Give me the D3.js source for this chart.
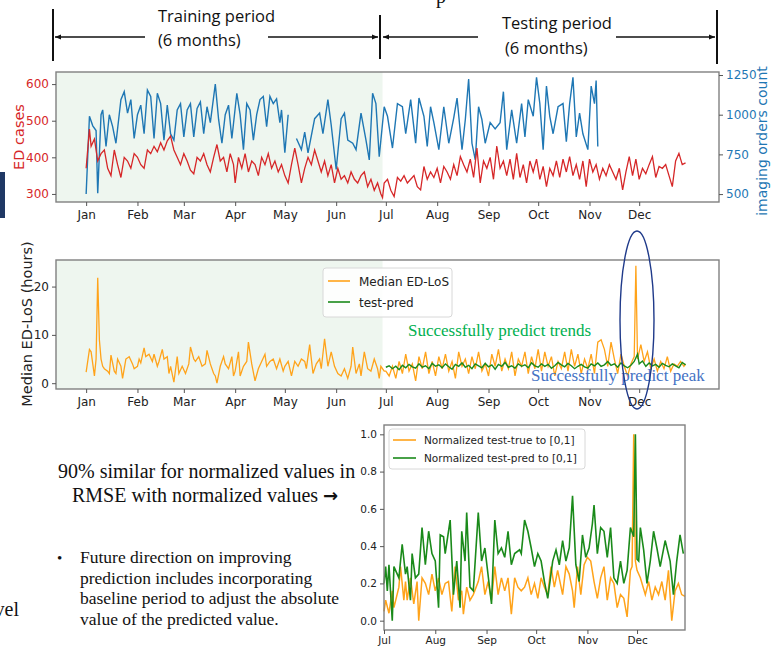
<!DOCTYPE html>
<html>
<head>
<meta charset="utf-8">
<script src="https://cdn.jsdelivr.net/npm/d3@7"></script>
<style>
body { margin: 0; background: #fff; }
svg { display: block; }
</style>
</head>
<body>
<svg id="slide" width="776" height="648"></svg>
<script>
// ---- data (day offsets from Jan 1 2019) ----
var edCases = [[0,370],[2,477],[3,430],[5,450],[7,390],[9,410],[11,420],[13,370],[15,350],[17,420],[19,380],[21,345],[23,400],[25,390],[27,370],[29,410],[31,400],[33,380],[35,370],[37,420],[39,410],[41,430],[43,415],[45,440],[47,420],[49,445],[51,458],[53,420],[55,400],[57,380],[59,410],[61,390],[63,365],[65,355],[67,400],[69,390],[71,410],[73,380],[75,360],[77,400],[79,435],[81,390],[83,400],[85,360],[87,410],[89,380],[90,330],[92,400],[94,370],[96,410],[98,360],[100,390],[102,380],[104,350],[106,400],[108,380],[110,410],[112,370],[114,390],[116,360],[118,380],[120,350],[122,330],[124,380],[126,425],[128,380],[130,330],[132,370],[134,400],[136,380],[138,420],[140,390],[142,360],[144,390],[146,350],[148,380],[150,330],[152,370],[154,340],[156,350],[158,330],[160,360],[162,340],[164,330],[166,350],[168,360],[170,320],[172,340],[174,310],[176,330],[178,300],[179,290],
  [180,330],[182,340],[184,310],[186,293],[188,345],[190,335],[192,350],[194,330],[196,340],[198,350],[200,320],[202,311],[204,375],[206,340],[208,360],[210,345],[212,370],[214,330],[216,375],[218,360],[220,340],[222,380],[224,350],[226,402],[228,380],[230,360],[232,395],[234,345],[236,425],[238,330],[240,390],[242,370],[244,400],[246,340],[248,431],[250,370],[252,390],[254,350],[256,395],[258,340],[260,411],[262,345],[264,380],[266,330],[268,390],[270,360],[272,395],[274,340],[276,375],[278,320],[280,370],[282,350],[284,390],[286,345],[288,395],[290,360],[292,402],[294,350],[296,380],[298,340],[300,390],[302,320],[304,395],[306,360],[308,380],[310,340],[312,370],[314,350],[316,380],[318,360],[320,340],[322,370],[324,311],[326,360],[328,402],[330,350],[332,395],[334,340],[336,370],[338,355],[340,380],[342,402],[344,345],[346,375],[348,370],[350,380],[352,350],[354,320],[356,390],[358,411],[360,380],[362,385]];

var imagingJanMay = [[0,500],[2,990],[4,930],[6,900],[7,505],[9,1000],[10,1030],[12,800],[14,1000],[16,925],[18,820],[21,1095],[23,1145],[25,1010],[27,1095],[29,850],[31,1000],[33,1060],[35,880],[37,1155],[39,1115],[41,850],[43,1135],[45,1070],[47,840],[49,1060],[51,880],[53,840],[55,1030],[57,1070],[59,860],[61,1030],[63,1070],[65,860],[67,1040],[69,1080],[71,880],[73,1050],[75,950],[78,1193],[80,970],[82,820],[84,1000],[86,1060],[88,850],[91,1135],[93,1000],[95,780],[97,1070],[99,1030],[101,840],[103,1000],[105,1095],[107,1115],[109,925],[111,1115],[113,1070],[115,1100],[117,950],[118,1030],[120,760],[122,1000]];

var imagingMayNov = [[127,850],[130,780],[132,890],[134,760],[138,975],[141,1010],[143,880],[146,1095],[148,935],[151,655],[154,975],[156,1010],[158,840],[161,820],[163,780],[166,1010],[169,840],[171,715],[173,1135],[175,1070],[177,735],[180,1050],[182,990],[185,790],[188,1070],[191,1050],[193,880],[196,1095],[199,820],[201,1105],[204,990],[206,800],[208,1050],[210,950],[213,780],[216,1050],[219,820],[222,980],[224,1105],[227,780],[229,970],[231,1225],[233,820],[235,715],[237,1050],[239,970],[241,820],[244,950],[247,910],[250,950],[252,1145],[254,780],[257,1030],[260,820],[263,1070],[265,860],[267,1095],[270,990],[272,1235],[274,1070],[276,780],[278,1180],[280,990],[282,880],[285,1050],[288,1070],[290,830],[292,1070],[294,1235],[296,860],[298,1010],[300,880],[303,780],[305,1180],[307,1070],[308,1215],[309,800]];

var edLos = [[0,2.3],[2,7.0],[3,6.5],[5,1.5],[6,5.0],[7,21.8],[8,9.0],[9,5.0],[10,3.5],[11,3.0],[13,2.5],[14,2.0],[15,5.8],[17,2.5],[18,2.0],[19,5.0],[21,3.5],[22,1.0],[24,5.0],[26,5.5],[28,4.0],[29,3.0],[31,3.5],[32,5.0],[33,4.2],[35,7.3],[36,5.5],[38,6.0],[40,4.5],[41,6.0],[43,3.5],[44,4.5],[46,7.0],[47,5.0],[49,5.5],[50,2.0],[51,3.5],[53,0.2],[55,5.5],[56,2.0],[58,3.5],[60,2.0],[62,4.0],[63,7.5],[65,5.0],[66,4.5],[68,5.5],[70,3.5],[72,4.0],[73,6.8],[75,4.0],[77,2.0],[78,1.5],[79,0.0],[81,3.5],[83,5.5],[84,4.0],[86,3.0],[88,5.5],[89,1.5],[90,2.5],[92,6.5],[93,1.5],[95,3.5],[97,4.5],[98,8.5],[100,4.0],[102,0.5],[104,3.0],[106,4.5],[108,6.0],[109,3.5],[111,4.5],[113,5.0],[115,3.0],[117,5.0],[119,2.5],[120,3.5],[122,4.5],[124,1.5],[126,4.5],[128,3.5],[130,5.0],[132,4.5],[133,3.0],[135,8.0],[137,2.0],[139,4.0],[141,5.0],[142,3.0],[144,9.2],[146,3.5],[148,6.5],[150,3.5],[152,2.0],[154,1.5],[156,3.0],[158,1.0],[160,3.5],[161,7.5],[163,2.0],[165,4.0],[166,1.5],[168,6.5],[170,3.0],[172,2.5],[174,5.0],[176,3.0],[177,1.0],[178,3.5],[180,2.5],
  [181,2.5],[183,1.5],[185,3.5],[187,1.0],[189,4.5],[191,2.0],[193,6.0],[195,2.5],[197,4.0],[199,0.5],[201,5.5],[203,3.0],[205,6.5],[207,2.0],[209,4.5],[211,1.5],[213,5.5],[215,3.0],[217,6.0],[219,2.5],[221,4.5],[223,1.0],[225,6.5],[227,3.5],[229,5.0],[231,2.0],[233,5.5],[235,3.0],[237,6.5],[239,2.5],[241,4.0],[243,1.5],[245,6.0],[247,3.5],[249,7.0],[251,2.5],[253,5.0],[255,3.0],[257,6.5],[259,1.5],[261,5.0],[263,3.5],[265,6.5],[267,2.0],[269,5.5],[271,3.0],[273,7.0],[275,2.5],[277,6.5],[279,3.5],[281,5.5],[283,1.5],[285,4.5],[287,3.0],[289,6.5],[291,2.5],[293,7.0],[295,3.5],[297,6.0],[299,2.0],[301,5.0],[303,3.0],[305,6.0],[307,2.0],[309,8.5],[311,9.0],[313,7.0],[315,3.5],[317,8.5],[319,5.0],[321,2.0],[323,6.0],[325,3.5],[327,1.5],[329,4.0],[331,5.5],[332,24.3],[333,5.0],[335,8.0],[337,4.5],[339,6.5],[341,3.0],[343,5.0],[345,2.5],[347,4.5],[349,3.0],[351,5.5],[353,2.5],[355,4.0],[357,3.5],[359,4.5],[361,3.5],[362,4.0]];

var testPred = [[181,3.3],[183,3.6],[185,3.0],[187,3.5],[189,2.8],[191,3.7],[193,3.2],[195,3.9],[197,3.4],[199,3.1],[201,4.0],[203,3.3],[205,3.6],[207,3.0],[209,4.1],[211,3.5],[213,3.8],[215,3.2],[217,4.0],[219,3.4],[221,2.9],[223,3.9],[225,3.5],[227,4.2],[229,3.3],[231,3.7],[233,3.0],[235,4.0],[237,3.6],[239,3.2],[241,4.1],[243,3.4],[245,3.8],[247,2.9],[249,3.9],[251,3.5],[253,4.3],[255,3.3],[257,3.6],[259,3.1],[261,4.0],[263,3.5],[265,3.8],[267,3.2],[269,4.2],[271,3.6],[273,3.3],[275,4.0],[277,3.5],[279,3.9],[281,3.1],[283,3.6],[285,4.3],[287,3.8],[289,3.4],[291,4.1],[293,3.6],[295,3.0],[297,3.5],[299,3.9],[301,3.4],[303,3.1],[305,4.0],[307,3.6],[309,4.2],[311,3.5],[313,3.8],[315,4.5],[317,3.7],[319,4.0],[321,3.3],[323,4.2],[325,3.6],[327,3.2],[329,3.7],[331,4.5],[333,6.0],[334,4.0],[336,4.6],[338,3.5],[340,4.2],[342,3.6],[344,3.9],[346,3.3],[348,4.1],[350,3.7],[352,3.4],[354,4.0],[356,3.6],[358,3.2],[360,4.3],[362,3.8]];

// normalized series: day offsets from Jul 1 2019
var normTrue = [[0,0.05],[1,0.11],[3,0.04],[5,0.16],[6,0.07],[9,0.18],[10,0.29],[12,0.11],[13,0.21],[14,0.11],[16,0.23],[18,0.09],[20,0.21],[21,0.0],[23,0.23],[25,0.20],[27,0.14],[29,0.25],[31,0.16],[33,0.23],[35,0.14],[37,0.20],[39,0.21],[41,0.05],[43,0.29],[45,0.11],[47,0.16],[48,0.035],[50,0.18],[52,0.11],[54,0.14],[57,0.21],[59,0.29],[61,0.14],[63,0.21],[65,0.11],[67,0.29],[69,0.14],[71,0.23],[73,0.16],[75,0.23],[77,0.035],[79,0.23],[81,0.18],[83,0.16],[85,0.18],[87,0.23],[89,0.14],[91,0.20],[93,0.12],[95,0.23],[97,0.18],[99,0.14],[101,0.29],[103,0.18],[105,0.27],[108,0.14],[110,0.29],[112,0.25],[114,0.16],[115,0.07],[117,0.29],[119,0.14],[121,0.30],[123,0.34],[125,0.32],[127,0.21],[129,0.12],[131,0.23],[133,0.29],[135,0.11],[137,0.23],[139,0.20],[141,0.07],[143,0.14],[145,0.12],[147,0.02],[149,0.27],[150,0.29],[151,1.0],[152,0.32],[153,0.27],[155,0.23],[158,0.14],[160,0.21],[162,0.11],[164,0.18],[166,0.14],[168,0.21],[170,0.11],[172,0.27],[174,0.0],[176,0.16],[178,0.20],[180,0.14],[182,0.13]];

var normPred = [[0,0.20],[1,0.29],[2,0.16],[3,0.30],[5,0.0],[6,0.29],[9,0.23],[11,0.41],[13,0.25],[14,0.29],[16,0.11],[17,0.36],[19,0.23],[21,0.25],[23,0.50],[25,0.30],[27,0.48],[29,0.36],[31,0.32],[33,0.07],[34,0.46],[36,0.45],[37,0.36],[40,0.54],[42,0.14],[44,0.32],[46,0.07],[47,0.48],[49,0.32],[50,0.58],[52,0.18],[54,0.16],[57,0.58],[59,0.32],[61,0.39],[65,0.09],[67,0.54],[69,0.36],[71,0.39],[73,0.34],[75,0.48],[77,0.30],[79,0.36],[82,0.38],[83,0.36],[85,0.54],[87,0.48],[89,0.39],[91,0.29],[93,0.36],[95,0.32],[97,0.21],[99,0.12],[102,0.32],[104,0.38],[106,0.30],[108,0.43],[110,0.32],[112,0.39],[114,0.67],[116,0.30],[118,0.21],[120,0.46],[122,0.34],[124,0.39],[126,0.52],[127,0.62],[129,0.36],[131,0.50],[133,0.48],[135,0.34],[137,0.50],[139,0.23],[141,0.20],[143,0.32],[145,0.20],[147,0.27],[149,0.50],[151,0.45],[152,1.0],[153,0.33],[154,0.32],[155,0.50],[157,0.38],[159,0.20],[161,0.32],[163,0.48],[165,0.39],[167,0.29],[170,0.43],[173,0.32],[175,0.14],[177,0.32],[179,0.46],[181,0.36]];

var trainEndDay = 179;
var edTicks = [300, 400, 500, 600];
var imagingTicks = [500, 750, 1000, 1250];
var losTicks = [0, 10, 20];
var normTicks = [0, 0.2, 0.4, 0.6, 0.8, 1.0];

// ---- setup ----
var svg = d3.select("#slide");
var jan1 = new Date(2019, 0, 1), jul1 = new Date(2019, 6, 1);
var DAY = 864e5;
function onDay(base, d) { return d3.timeDay.offset(base, d); }
var fmtMonth = d3.timeFormat("%b");
var orange = "#ffa31a", green = "#1a8a1a", red = "#d62728", blue = "#1f77b4";
var yearMonths = d3.timeMonths(jan1, new Date(2020, 0, 1));
var halfMonths = d3.timeMonths(jul1, new Date(2020, 0, 1));

// shared year axis of the two upper charts (5% margin on each side)
var x = d3.scaleTime()
    .domain([new Date(+jan1 - 18.2 * DAY), new Date(+jan1 + 382.2 * DAY)])
    .range([56, 719]);

function tidy(g, color, size) {
    g.select(".domain").remove();
    g.selectAll(".tick line").attr("stroke", "#555");
    g.selectAll(".tick text").attr("fill", color)
        .attr("font-size", size).attr("font-family", "DejaVu Sans");
}

function frame(g, xs, ys) {
    g.append("rect")
        .attr("x", xs[0]).attr("y", ys[1])
        .attr("width", xs[1] - xs[0]).attr("height", ys[0] - ys[1])
        .attr("fill", "none").attr("stroke", "#808080").attr("stroke-width", 1.4);
}

// ---- header: training / testing periods ----
var defs = svg.append("defs");
defs.append("marker").attr("id", "head")
    .attr("viewBox", "0 0 10 10").attr("refX", 10).attr("refY", 5)
    .attr("markerWidth", 7).attr("markerHeight", 6).attr("markerUnits", "userSpaceOnUse")
    .attr("orient", "auto")
  .append("path").attr("d", "M0,1 L10,5 L0,9 Z").attr("fill", "#111");

var header = svg.append("g");
[[53, 9, 61], [380, 15, 59], [717, 10, 64]].forEach(function(v) {
    header.append("line").attr("x1", v[0]).attr("x2", v[0]).attr("y1", v[1]).attr("y2", v[2])
        .attr("stroke", "#111").attr("stroke-width", 2);
});
[[145, 55], [268, 378], [478, 383], [616, 715]].forEach(function(a) {
    header.append("line").attr("x1", a[0]).attr("x2", a[1]).attr("y1", 37).attr("y2", 37)
        .attr("stroke", "#111").attr("stroke-width", 1.5).attr("marker-end", "url(#head)");
});
var headTxt = [["Training period", 158, 22], ["(6 months)", 158, 46], ["Testing period", 502, 29], ["(6 months)", 505, 54]];
header.selectAll("text.h").data(headTxt).enter().append("text")
    .attr("x", function(d) { return d[1]; }).attr("y", function(d) { return d[2]; })
    .attr("font-family", "Open Sans").attr("font-size", 16.5).attr("fill", "#111")
    .text(function(d) { return d[0]; });
svg.append("text").attr("x", 436).attr("y", 3).attr("font-family", "Liberation Serif")
    .attr("font-size", 20).attr("fill", "#111").text("p");

// slide decorations at left edge
svg.append("rect").attr("x", 0).attr("y", 172).attr("width", 5).attr("height", 46).attr("fill", "#1f3864");
svg.append("text").attr("x", 19).attr("y", 616).attr("text-anchor", "end")
    .attr("font-family", "Liberation Serif").attr("font-size", 20).attr("fill", "#111").text("vel");

// ---- top chart: ED cases + imaging orders ----
var topChart = svg.append("g");
var yEd = d3.scaleLinear().domain([278, 633]).range([202, 72]);
var yImg = d3.scaleLinear().domain([450, 1269]).range([202, 72]);

topChart.append("rect").attr("x", x.range()[0]).attr("y", yEd.range()[1])
    .attr("width", x(onDay(jan1, trainEndDay)) - x.range()[0])
    .attr("height", yEd.range()[0] - yEd.range()[1]).attr("fill", "#eef6ef");

var lineEd = d3.line().x(function(d) { return x(onDay(jan1, d[0])); }).y(function(d) { return yEd(d[1]); });
var lineImg = d3.line().x(function(d) { return x(onDay(jan1, d[0])); }).y(function(d) { return yImg(d[1]); });

[imagingJanMay, imagingMayNov].forEach(function(s) {
    topChart.append("path").datum(s).attr("d", lineImg)
        .attr("fill", "none").attr("stroke", blue).attr("stroke-width", 1.4);
});
topChart.append("path").datum(edCases).attr("d", lineEd)
    .attr("fill", "none").attr("stroke", red).attr("stroke-width", 1.3);

frame(topChart, x.range(), yEd.range());

topChart.append("g").attr("transform", "translate(0,202)")
    .call(d3.axisBottom(x).tickValues(yearMonths).tickFormat(fmtMonth).tickSize(4).tickPadding(4))
    .call(tidy, "#222", 12);
topChart.append("g").attr("transform", "translate(56,0)")
    .call(d3.axisLeft(yEd).tickValues(edTicks).tickSize(4).tickPadding(3))
    .call(tidy, red, 12);
topChart.append("g").attr("transform", "translate(719,0)")
    .call(d3.axisRight(yImg).tickValues(imagingTicks).tickFormat(d3.format("d")).tickSize(4).tickPadding(3))
    .call(tidy, blue, 12);

topChart.append("text").attr("transform", "translate(24,137) rotate(-90)").attr("text-anchor", "middle")
    .attr("font-family", "DejaVu Sans").attr("font-size", 14.5).attr("fill", red).text("ED cases");
topChart.append("text").attr("transform", "translate(767,141) rotate(-90)").attr("text-anchor", "middle")
    .attr("font-family", "DejaVu Sans").attr("font-size", 14).attr("fill", blue).text("imaging orders count");

// ---- middle chart: median ED length of stay ----
var midChart = svg.append("g");
var yLos = d3.scaleLinear().domain([-1.2, 25.5]).range([389, 260]);

midChart.append("rect").attr("x", x.range()[0]).attr("y", yLos.range()[1])
    .attr("width", x(onDay(jan1, trainEndDay)) - x.range()[0])
    .attr("height", yLos.range()[0] - yLos.range()[1]).attr("fill", "#eef6ef");

var lineLos = d3.line().x(function(d) { return x(onDay(jan1, d[0])); }).y(function(d) { return yLos(d[1]); });
midChart.append("path").datum(edLos).attr("d", lineLos)
    .attr("fill", "none").attr("stroke", orange).attr("stroke-width", 1.3);
midChart.append("path").datum(testPred).attr("d", lineLos)
    .attr("fill", "none").attr("stroke", green).attr("stroke-width", 1.4);

frame(midChart, x.range(), yLos.range());

midChart.append("g").attr("transform", "translate(0,389)")
    .call(d3.axisBottom(x).tickValues(yearMonths).tickFormat(fmtMonth).tickSize(4).tickPadding(4))
    .call(tidy, "#222", 12);
midChart.append("g").attr("transform", "translate(56,0)")
    .call(d3.axisLeft(yLos).tickValues(losTicks).tickSize(4).tickPadding(3))
    .call(tidy, "#222", 12);
midChart.append("text").attr("transform", "translate(32,324) rotate(-90)").attr("text-anchor", "middle")
    .attr("font-family", "DejaVu Sans").attr("font-size", 14.5).attr("fill", "#222").text("Median ED-LoS (hours)");

var midLegend = midChart.append("g");
midLegend.append("rect").attr("x", 323).attr("y", 268).attr("width", 129).attr("height", 49)
    .attr("rx", 3).attr("fill", "#fff").attr("fill-opacity", 0.85).attr("stroke", "#d8d8d8");
[["Median ED-LoS", orange, 281], ["test-pred", green, 302]].forEach(function(l) {
    midLegend.append("line").attr("x1", 328).attr("x2", 350).attr("y1", l[2]).attr("y2", l[2])
        .attr("stroke", l[1]).attr("stroke-width", 1.6);
    midLegend.append("text").attr("x", 359).attr("y", l[2] + 4.5)
        .attr("font-family", "DejaVu Sans").attr("font-size", 12).attr("fill", "#222").text(l[0]);
});

svg.append("text").attr("x", 408).attr("y", 336).attr("font-family", "Liberation Serif")
    .attr("font-size", 17).attr("fill", "#00b050").text("Successfully predict trends");
svg.append("text").attr("x", 531).attr("y", 381).attr("font-family", "Liberation Serif")
    .attr("font-size", 17).attr("fill", "#4472c4").text("Successfully predict peak");
svg.append("ellipse").attr("cx", 637).attr("cy", 320).attr("rx", 17).attr("ry", 89)
    .attr("fill", "none").attr("stroke", "#1f3a8a").attr("stroke-width", 1.4);

// ---- bottom chart: normalized values over the test period ----
var botChart = svg.append("g");
var xb = d3.scaleTime().domain([jul1, onDay(jul1, 182)]).range([384, 685]);
var yb = d3.scaleLinear().domain([-0.05, 1.05]).range([630, 425]);
var lineNorm = d3.line().x(function(d) { return xb(onDay(jul1, d[0])); }).y(function(d) { return yb(d[1]); });

botChart.append("path").datum(normTrue).attr("d", lineNorm)
    .attr("fill", "none").attr("stroke", orange).attr("stroke-width", 1.5);
botChart.append("path").datum(normPred).attr("d", lineNorm)
    .attr("fill", "none").attr("stroke", green).attr("stroke-width", 1.6);

frame(botChart, xb.range(), yb.range());

botChart.append("g").attr("transform", "translate(0,630)")
    .call(d3.axisBottom(xb).tickValues(halfMonths).tickFormat(fmtMonth).tickSize(4).tickPadding(3))
    .call(tidy, "#222", 10.5);
botChart.append("g").attr("transform", "translate(384,0)")
    .call(d3.axisLeft(yb).tickValues(normTicks).tickFormat(d3.format(".1f")).tickSize(4).tickPadding(3))
    .call(tidy, "#222", 10.5);

var botLegend = botChart.append("g");
botLegend.append("rect").attr("x", 389).attr("y", 429).attr("width", 196).attr("height", 40)
    .attr("rx", 3).attr("fill", "#fff").attr("fill-opacity", 0.85).attr("stroke", "#d8d8d8");
[["Normalized test-true to [0,1]", orange, 440], ["Normalized test-pred to [0,1]", green, 458]].forEach(function(l) {
    botLegend.append("line").attr("x1", 393).attr("x2", 416).attr("y1", l[2]).attr("y2", l[2])
        .attr("stroke", l[1]).attr("stroke-width", 1.6);
    botLegend.append("text").attr("x", 424).attr("y", l[2] + 4)
        .attr("font-family", "DejaVu Sans").attr("font-size", 10.5).attr("fill", "#222").text(l[0]);
});

// ---- slide text ----
var notes = svg.append("g").attr("font-family", "Liberation Serif").attr("fill", "#111");
notes.append("text").attr("x", 58).attr("y", 478).attr("font-size", 20).text("90% similar for normalized values in");
var rmse = notes.append("text").attr("x", 72).attr("y", 502).attr("font-size", 20);
rmse.append("tspan").text("RMSE with normalized values ");
rmse.append("tspan").attr("font-family", "DejaVu Sans").attr("font-weight", "bold").attr("font-size", 18).text("\u2192");
notes.append("text").attr("x", 57).attr("y", 563).attr("font-size", 15).text("\u2022");
var bullet = ["Future direction on improving", "prediction includes incorporating",
              "baseline period to adjust the absolute", "value of the predicted value."];
notes.selectAll("text.b").data(bullet).enter().append("text")
    .attr("x", 80).attr("y", function(d, i) { return 563 + i * 20.7; })
    .attr("font-size", 17.5).text(function(d) { return d; });
</script>
</body>
</html>
